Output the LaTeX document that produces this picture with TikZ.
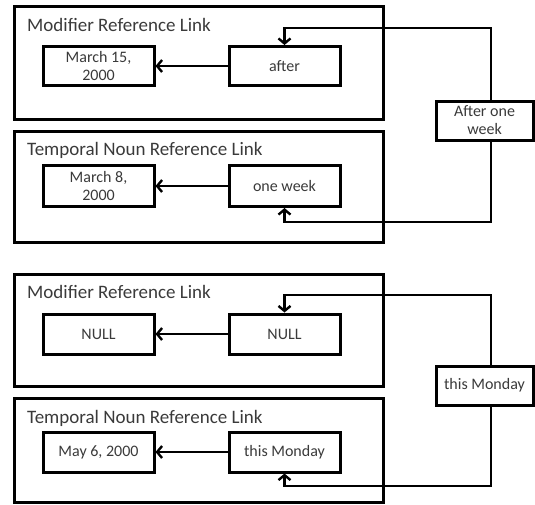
\documentclass[tikz,border=0pt]{standalone}
\usepackage{fontspec}
\setmainfont{Carlito}
\usetikzlibrary{arrows.meta}
\definecolor{txt}{HTML}{3A3A3A}
\tikzset{
  outerbox/.style={draw, line width=3pt},
  titletext/.style={anchor=base west, inner sep=0pt, text=txt, font=\fontsize{19}{21}\selectfont},
  itembox/.style={draw, line width=3pt, minimum width=111pt, minimum height=39pt, inner sep=1pt, align=center, text=txt, font=\fontsize{16}{18}\selectfont},
  sidebox/.style={itembox, minimum width=97pt},
  link/.style={line width=2.4pt, -{Straight Barb[length=5pt,width=12pt,line width=2.4pt]}},
}
\begin{document}
\begin{tikzpicture}[x=1pt,y=-1pt]
\useasboundingbox (0,0) rectangle (535,504);
% outer groups
\draw[outerbox] (14.3,6) rectangle (383,119.5);
\draw[outerbox] (14.3,131) rectangle (383,242);
\draw[outerbox] (14.3,274.6) rectangle (383,386.5);
\draw[outerbox] (14.3,398) rectangle (383,502);
\node[titletext] (t1) at (27,31.5) {Modifier Reference Link};
\node[titletext] (t2) at (27,155) {Temporal Noun Reference Link};
\node[titletext] (t3) at (27,298.5) {Modifier Reference Link};
\node[titletext] (t4) at (27,423.5) {Temporal Noun Reference Link};
% top group
\node[itembox] (m15) at (98.5,66) {March 15,\\2000};
\node[itembox] (after) at (284.5,66) {after};
\node[itembox, minimum height=41pt] (m8) at (98.5,186) {March 8,\\2000};
\node[itembox, minimum height=41pt] (week) at (284.5,186) {one week};
\node[sidebox] (aow) at (484.5,120.5) {After one\\week};
\draw[link] (after.west) -- (after.west -| m15.east);
\draw[link] (week.west) -- (week.west -| m8.east);
\coordinate (c1) at (491,28);
\coordinate (c2) at (491,222);
\draw[link] (aow.north -| c1) -- (c1) -| (after.north);
\draw[link] (aow.south -| c2) -- (c2) -| (week.south);
% bottom group
\node[itembox, minimum height=40pt] (n1) at (98.5,334) {NULL};
\node[itembox, minimum height=40pt] (n2) at (284.5,334) {NULL};
\node[itembox, minimum height=40pt] (may) at (98.5,452) {May 6, 2000};
\node[itembox, minimum height=40pt] (mon) at (284.5,452) {this Monday};
\node[sidebox] (monr) at (484.5,385.5) {this Monday};
\draw[link] (n2.west) -- (n2.west -| n1.east);
\draw[link] (mon.west) -- (mon.west -| may.east);
\coordinate (c3) at (491,295);
\coordinate (c4) at (491,486);
\draw[link] (monr.north -| c3) -- (c3) -| (n2.north);
\draw[link] (monr.south -| c4) -- (c4) -| (mon.south);
\end{tikzpicture}
\end{document}
